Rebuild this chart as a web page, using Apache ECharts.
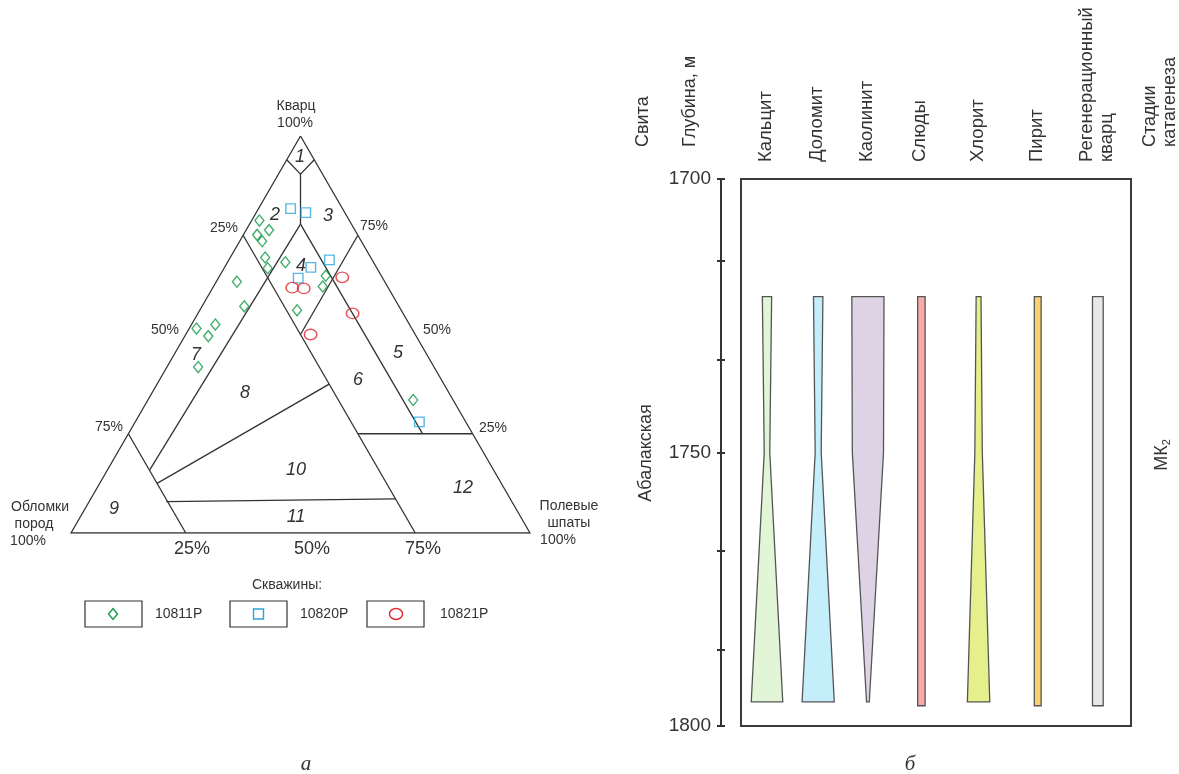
<!DOCTYPE html>
<html><head><meta charset="utf-8">
<script src="https://cdn.jsdelivr.net/npm/echarts@6/dist/echarts.min.js"></script>
<style>html,body{margin:0;padding:0;background:#fff}#c{width:1179px;height:774px}</style>
</head><body><div id="c"></div>
<script>
// ===== Ternary diagram (а): compositions [Кварц %, Полевые шпаты %, Обломки пород %]
const wellNames = ['10811Р', '10820Р', '10821Р'];
const well10811 = [
  [78.7, 1.7, 19.6], [76.3, 5.0, 18.7], [75.1, 3.0, 21.9], [73.5, 4.9, 21.6],
  [69.4, 7.6, 23.0], [66.7, 9.5, 23.8], [68.2, 12.6, 19.2], [64.8, 23.1, 12.1],
  [62.1, 23.8, 14.1], [56.1, 21.2, 22.7], [63.3, 4.5, 32.2], [57.1, 9.2, 33.7],
  [51.5, 1.6, 46.9], [52.5, 5.2, 42.3], [49.6, 5.1, 45.3], [41.8, 6.8, 51.4],
  [33.5, 57.8, 8.7]
];
const well10820 = [
  [81.7, 7.0, 11.3], [80.7, 10.8, 8.5], [68.8, 21.9, 9.3], [66.9, 18.8, 14.3],
  [64.2, 17.4, 18.4], [28.0, 61.9, 10.1]
];
const well10821 = [
  [61.8, 17.3, 20.9], [61.6, 19.9, 18.5], [64.4, 26.9, 8.7], [55.3, 33.7, 11.0],
  [50.0, 27.2, 22.8]
];
// classification field boundaries, vertices as [Q, F]
const triangleOutline = [[100, 0], [0, 100], [0, 0], [100, 0]];
const fieldBoundaries = [
  [[94, 0], [90.4, 4.8], [94, 6]],
  [[90.4, 4.8], [77.8, 11.1]],
  [[77.8, 11.1], [15.9, 9.2]],
  [[77.8, 11.1], [25.1, 64]],
  [[75, 0], [0, 75]],
  [[25, 50], [25, 75]],
  [[75, 25], [50, 25]],
  [[25, 0], [0, 25]],
  [[37.5, 37.5], [12.5, 12.5]],
  [[7.9, 16.8], [8.6, 66.4]]
];
const sideTicks = ['25%', '50%', '75%'];

// ===== Depth column (б)
const minerals = ['Кальцит', 'Доломит', 'Каолинит', 'Слюды', 'Хлорит', 'Пирит', 'Регенерационный\nкварц'];
const columnX = [8.0, 23.75, 39.05, 55.5, 73.1, 91.3, 109.8];
const profileDepths = [
  [1721.5, 1750, 1795.6], [1721.5, 1750, 1795.6], [1721.5, 1750, 1795.6],
  [1721.5, 1796.3], [1721.5, 1750, 1795.6], [1721.5, 1796.3], [1721.5, 1796.3]
];
const profileWidths = [
  [2.86, 1.7, 9.7], [2.9, 1.85, 9.9], [9.9, 9.6, 0.85],
  [2.3, 2.3], [1.5, 2.3, 6.9], [2.1, 2.1], [3.3, 3.3]
];
const mineralColors = ['#e2f5d6', '#c5eefb', '#ddd3e4', '#f7aaa9', '#e5ef8c', '#fdd06e', '#e8e8e8'];
const depthLabels = [1700, 1750, 1800];
const depthTicks = [1700, 1715, 1733, 1750, 1768, 1786, 1800];

const FONT = 'Liberation Sans, Arial, sans-serif';
const TXT = '#333';
const S3 = Math.sqrt(3) / 2;
const toXY = p => [p[1] + p[0] / 2, p[0] * S3];

const chart = echarts.init(document.getElementById('c'), null, {renderer: 'canvas'});

function t(x, y, text, size, extra) {
  return Object.assign({type: 'text', x: x, y: y, silent: true,
    style: Object.assign({text: text, fontSize: size, fontFamily: FONT, fill: TXT,
      align: 'center', verticalAlign: 'middle'}, (extra && extra.style) || {})},
    extra && extra.rotation !== undefined ? {rotation: extra.rotation} : {});
}
function rt(x, y, text, size, style) { return t(x, y, text, size, {rotation: Math.PI / 2, style: style}); }
function ital(x, y, text) { return t(x, y, text, 18, {style: {fontStyle: 'italic'}}); }

const graphics = [
  t(296, 106, 'Кварц', 14), t(295, 123, '100%', 14),
  t(40, 507, 'Обломки', 14), t(34, 524, 'пород', 14), t(28, 541, '100%', 14),
  t(569, 506, 'Полевые', 14), t(569, 523, 'шпаты', 14), t(558, 540, '100%', 14),
  t(224, 228, sideTicks[0], 14), t(165, 330, sideTicks[1], 14), t(109, 427, sideTicks[2], 14),
  t(374, 226, sideTicks[2], 14), t(437, 330, sideTicks[1], 14), t(493, 428, sideTicks[0], 14),
  t(192, 549, sideTicks[0], 18), t(312, 549, sideTicks[1], 18), t(423, 549, sideTicks[2], 18),
  ital(300, 157, '1'), ital(275, 215, '2'), ital(328, 216, '3'), ital(301, 266, '4'),
  ital(398, 353, '5'), ital(358, 380, '6'), ital(196, 355, '7'), ital(245, 393, '8'),
  ital(114, 509, '9'), ital(296, 470, '10'), ital(296, 517, '11'), ital(463, 488, '12'),
  t(287, 585, 'Скважины:', 14),
  {type: 'rect', shape: {x: 85, y: 601, width: 57, height: 26}, style: {fill: 'none', stroke: '#333', lineWidth: 1.2}},
  {type: 'rect', shape: {x: 230, y: 601, width: 57, height: 26}, style: {fill: 'none', stroke: '#333', lineWidth: 1.2}},
  {type: 'rect', shape: {x: 367, y: 601, width: 57, height: 26}, style: {fill: 'none', stroke: '#333', lineWidth: 1.2}},
  {type: 'polygon', shape: {points: [[113, 608.5], [117.5, 614], [113, 619.5], [108.5, 614]]}, style: {fill: 'none', stroke: '#129a48', lineWidth: 1.4}},
  {type: 'rect', shape: {x: 253.5, y: 609, width: 10, height: 10}, style: {fill: 'none', stroke: '#2aa6dc', lineWidth: 1.4}},
  {type: 'ellipse', shape: {cx: 396, cy: 614, rx: 6.5, ry: 5.5}, style: {fill: 'none', stroke: '#e3262f', lineWidth: 1.4}},
  t(155, 614, wellNames[0], 14, {style: {align: 'left'}}),
  t(300, 614, wellNames[1], 14, {style: {align: 'left'}}),
  t(440, 614, wellNames[2], 14, {style: {align: 'left'}}),
  t(306, 764, 'а', 21, {style: {fontFamily: 'Liberation Serif, serif', fontStyle: 'italic'}}),
  t(910, 764, 'б', 21, {style: {fontFamily: 'Liberation Serif, serif', fontStyle: 'italic'}}),
  rt(643, 147, 'Свита', 18, {align: 'left'}),
  rt(690, 147, 'Глубина, м', 18, {align: 'left'}),
  rt(1160, 147, 'Стадии\nкатагенеза', 18, {align: 'left', lineHeight: 20}),
  rt(646, 453, 'Абалакская', 18, {}),
  rt(1162, 455, 'МК{s|2}', 18, {rich: {s: {fontSize: 11, padding: [9, 0, 0, 0], fontFamily: FONT, fill: TXT}}})
];

function scatterSeries(name, data, symbol, size, color) {
  return {
    name: name, type: 'scatter', xAxisIndex: 0, yAxisIndex: 0,
    symbol: symbol, symbolSize: size, silent: true,
    itemStyle: {color: 'rgba(0,0,0,0)', borderColor: color, borderWidth: 1.4},
    data: data.map(toXY), z: 5
  };
}

const option = {
  backgroundColor: '#fff',
  animation: false,
  grid: [
    {left: 71, top: 136, width: 459, height: 397},
    {left: 741, top: 179, right: 48, bottom: 48, show: true, borderColor: '#3a3a3a', borderWidth: 2}
  ],
  xAxis: [
    {gridIndex: 0, type: 'value', min: 0, max: 100, show: false},
    {gridIndex: 1, type: 'value', min: 0, max: 120, position: 'top',
      axisLine: {show: false, onZero: false}, axisTick: {show: false}, splitLine: {show: false},
      axisLabel: {show: false}}
  ],
  yAxis: [
    {gridIndex: 0, type: 'value', min: 0, max: 100 * S3, show: false},
    {gridIndex: 1, type: 'value', min: 1700, max: 1800, inverse: true, position: 'left', offset: 20,
      axisLine: {show: true, onZero: false, lineStyle: {color: '#333', width: 2}},
      axisTick: {show: true, customValues: depthTicks, length: 4, lineStyle: {color: '#333', width: 2}},
      axisLabel: {customValues: depthLabels, fontSize: 19, fontFamily: FONT, color: TXT, margin: 10,
        formatter: v => String(v)},
      splitLine: {show: false}},
    {gridIndex: 1, type: 'value', min: 1700, max: 1800, inverse: true, position: 'left', offset: 20,
      axisLine: {show: false, onZero: false},
      axisTick: {show: true, inside: true, customValues: depthTicks, length: 4, lineStyle: {color: '#333', width: 2}},
      axisLabel: {show: false}, splitLine: {show: false}}
  ],
  series: [
    {type: 'lines', coordinateSystem: 'cartesian2d', xAxisIndex: 0, yAxisIndex: 0, polyline: true, silent: true,
      lineStyle: {color: '#333', width: 1.3, opacity: 1},
      data: [triangleOutline].concat(fieldBoundaries).map(seg => ({coords: seg.map(toXY)})), z: 3},
    scatterSeries(wellNames[0], well10811, 'diamond', [9, 11], '#129a48'),
    scatterSeries(wellNames[1], well10820, 'rect', [9.5, 9.5], '#2aa6dc'),
    scatterSeries(wellNames[2], well10821, 'circle', [12.5, 10.5], '#e3262f'),
    {type: 'custom', xAxisIndex: 1, yAxisIndex: 1, silent: true, clip: false,
      data: columnX.map((x, i) => [x, 1750, i]),
      encode: {x: 0, y: 1},
      renderItem: function (params, api) {
        const i = params.dataIndex;
        const cx = columnX[i], ds = profileDepths[i], ws = profileWidths[i];
        const left = ds.map((d, j) => api.coord([cx - ws[j] / 2, d]));
        const right = ds.map((d, j) => api.coord([cx + ws[j] / 2, d])).reverse();
        return {type: 'polygon', shape: {points: left.concat(right)},
          style: {fill: mineralColors[i], stroke: '#555', lineWidth: 1.3}};
      }}
  ],
  graphic: graphics
};
chart.setOption(option);
// mineral column headers placed through the x axis of the depth column
const headers = minerals.map((m, i) => {
  const px = chart.convertToPixel({xAxisIndex: 1}, columnX[i]);
  return rt(px - 1, 162, m, 18.5, {align: 'left', lineHeight: 20});
});
chart.setOption({graphic: graphics.concat(headers)});
</script></body></html>
